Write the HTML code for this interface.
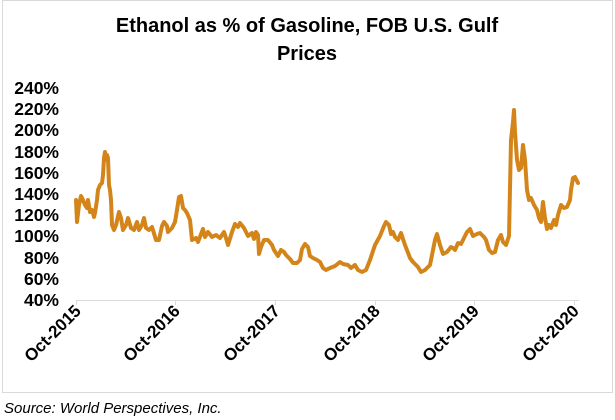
<!DOCTYPE html>
<html><head><meta charset="utf-8"><style>
html,body{margin:0;padding:0;background:#fff;}
body{width:615px;height:420px;position:relative;overflow:hidden;font-family:"Liberation Sans",Arial,sans-serif;}
</style></head><body>
<svg width="615" height="420" viewBox="0 0 615 420" xmlns="http://www.w3.org/2000/svg" style="position:absolute;left:0;top:0">
<rect x="2.5" y="0.5" width="610" height="392" fill="#fff" stroke="#d9d9d9" stroke-width="1"/>
<text x="307" y="32" text-anchor="middle" font-size="20" font-weight="bold" font-family="Liberation Sans, Arial, sans-serif">Ethanol as % of Gasoline, FOB U.S. Gulf</text>
<text x="307" y="60" text-anchor="middle" font-size="20" font-weight="bold" font-family="Liberation Sans, Arial, sans-serif">Prices</text>
<g font-size="17.5" font-weight="bold" text-anchor="end" font-family="Liberation Sans, Arial, sans-serif">
<text x="59" y="94">240%</text><text x="59" y="115">220%</text><text x="59" y="136">200%</text>
<text x="59" y="158">180%</text><text x="59" y="179">160%</text><text x="59" y="200">140%</text>
<text x="59" y="221">120%</text><text x="59" y="242">100%</text><text x="59" y="264">80%</text>
<text x="59" y="285">60%</text><text x="59" y="306">40%</text>
</g>
<g stroke="#d9d9d9" stroke-width="1">
<line x1="76" y1="300.5" x2="579" y2="300.5"/>
<line x1="76.5" y1="300" x2="76.5" y2="305"/><line x1="175.5" y1="300" x2="175.5" y2="305"/>
<line x1="275.5" y1="300" x2="275.5" y2="305"/><line x1="375.5" y1="300" x2="375.5" y2="305"/>
<line x1="474.5" y1="300" x2="474.5" y2="305"/><line x1="574.5" y1="300" x2="574.5" y2="305"/>
</g>
<g font-size="17" font-weight="bold" text-anchor="end" font-family="Liberation Sans, Arial, sans-serif">
<text transform="translate(82,312) rotate(-45)">Oct-2015</text>
<text transform="translate(181,312) rotate(-45)">Oct-2016</text>
<text transform="translate(281,312) rotate(-45)">Oct-2017</text>
<text transform="translate(381,312) rotate(-45)">Oct-2018</text>
<text transform="translate(480,312) rotate(-45)">Oct-2019</text>
<text transform="translate(580,312) rotate(-45)">Oct-2020</text>
</g>
<polyline fill="none" stroke="#D4851A" stroke-width="4" stroke-linejoin="round" stroke-linecap="round" points="
76,200 77,222 79,205 81,196 83,200 85,205 87,208 88,200 90,212 92,210 94,217 95,213 97,200 98,190 100,185 102,183 103,175 104,158 105,152 106,160 107,155 108,158 109,185 110,190 111,200 112,225 114,230 116,225 119,212 121,218 123,230 126,225 128,218 131,228 134,230 137,222 139,230 142,225 144,218 146,228 149,230 152,227 156,240 159,240 162,226 164,222 167,226 168,232 172,228 175,222 177,210 179,197 181,196 183,208 185,210 187,213 190,220 192,240 196,238 198,242 203,229 205,237 208,232 212,237 216,235 220,238 224,232 226,238 228,245 232,232 235,224 238,227 240,223 244,228 248,236 252,233 254,239 256,232 258,235 259,254 261,247 264,240 268,240 272,245 274,250 278,256 281,250 284,252 286,255 290,259 293,263 297,263 300,260 302,249 305,244 308,247 310,256 313,258 317,260 320,262 323,268 326,270 330,268 335,266 340,262 343,264 348,265 351,268 355,265 358,270 362,272 366,270 370,260 375,245 380,236 384,226 386,222 389,225 391,234 393,232 395,237 398,240 401,233 405,245 410,258 413,262 418,267 421,272 425,270 430,265 432,255 435,240 437,234 440,245 443,254 447,252 451,247 453,248 455,250 458,243 461,244 464,238 467,232 470,229 473,236 477,234 480,233 484,237 486,240 489,250 492,253 495,252 498,240 501,235 503,242 506,245 509,236 511,140 513,122 514,110 515,132 517,160 519,170 521,168 523,145 525,160 527,190 529,200 531,198 534,205 537,210 539,218 541,222 543,202 545,218 547,229 549,225 551,228 554,220 556,225 558,215 561,205 564,208 567,207 570,200 571,190 573,178 575,177 578,183"/>
<text x="4" y="413" font-size="15" font-style="italic" font-family="Liberation Sans, Arial, sans-serif">Source: World Perspectives, Inc.</text>
</svg>
</body></html>
